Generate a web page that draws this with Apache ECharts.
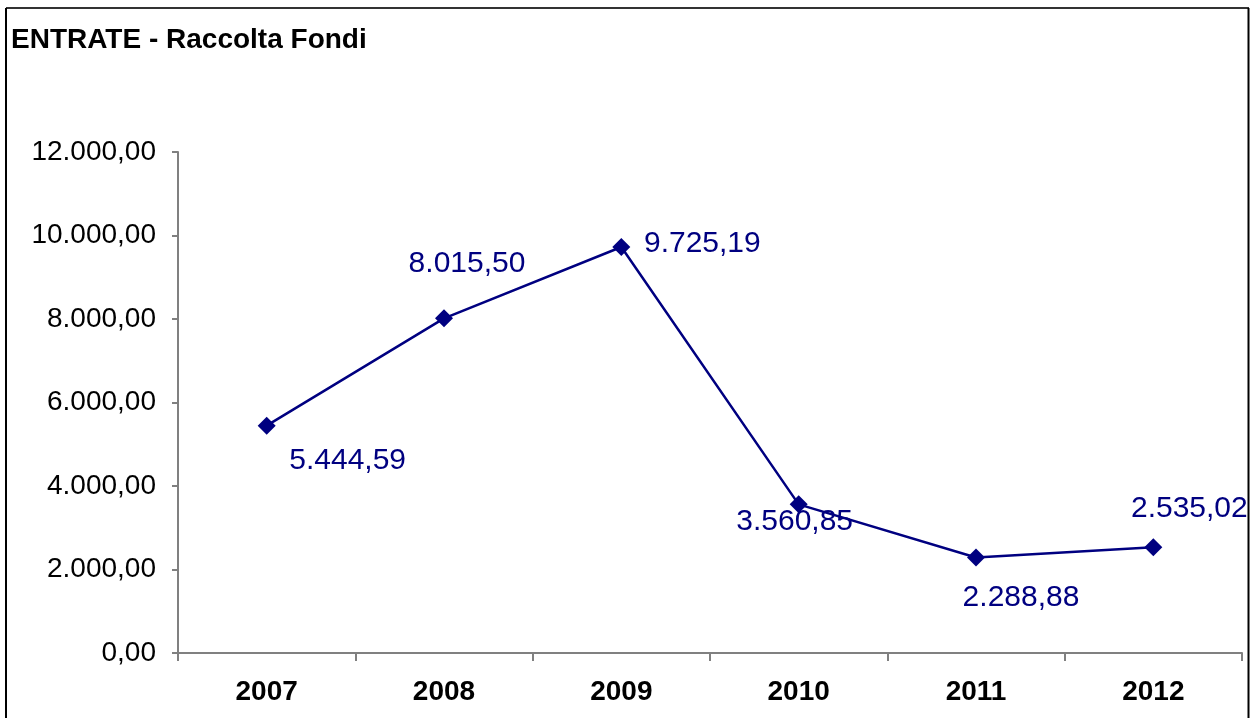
<!DOCTYPE html>
<html>
<head>
<meta charset="utf-8">
<script src="https://cdn.jsdelivr.net/npm/echarts@6/dist/echarts.min.js"></script>
<style>html,body{margin:0;padding:0;background:#fff}#c{width:1250px;height:718px}</style>
</head>
<body>
<div id="c"></div>
<script>
const categories = ['2007', '2008', '2009', '2010', '2011', '2012'];
const values = [5444.59, 8015.50, 9725.19, 3560.85, 2288.88, 2535.02];
const yTicks = [0, 2000, 4000, 6000, 8000, 10000, 12000];

function fmtIt(v) {
  const s = Number(v).toFixed(2);
  let [i, d] = s.split('.');
  i = i.replace(/\B(?=(\d{3})+(?!\d))/g, '.');
  return i + ',' + d;
}

const labelOffsets = [[81, 35], [23, -55], [81, -3], [-4, 17], [45, 40], [36, -38]];

const chart = echarts.init(document.getElementById('c'));
const navy = '#000080';
chart.setOption({
  backgroundColor: '#fff',
  animation: false,
  title: {
    text: 'ENTRATE - Raccolta Fondi',
    left: 6, top: 21,
    textStyle: { fontFamily: 'Liberation Sans, Arial', fontWeight: 'bold', fontSize: 28, color: '#000' }
  },
  grid: { left: 178, right: 8, top: 152, bottom: 65 },
  xAxis: {
    type: 'category',
    data: categories,
    boundaryGap: true,
    axisLine: { lineStyle: { color: '#808080', width: 2 } },
    axisTick: { show: true, length: 8, lineStyle: { color: '#808080', width: 2 } },
    axisLabel: { margin: 25, fontFamily: 'Liberation Sans, Arial', fontWeight: 'bold', fontSize: 28, color: '#000' }
  },
  yAxis: {
    type: 'value',
    min: yTicks[0], max: yTicks[yTicks.length - 1], interval: 2000,
    splitLine: { show: false },
    axisLine: { show: true, lineStyle: { color: '#808080', width: 2 } },
    axisTick: { show: true, length: 6, lineStyle: { color: '#808080', width: 2 } },
    axisLabel: { margin: 22, fontFamily: 'Liberation Sans, Arial', fontSize: 28, color: '#000', formatter: fmtIt }
  },
  series: [{
    type: 'line',
    data: values.map((v, i) => ({
      value: v,
      label: { offset: labelOffsets[i] }
    })),
    symbol: 'diamond',
    symbolSize: 18,
    lineStyle: { color: navy, width: 2.5 },
    itemStyle: { color: navy },
    label: {
      show: true, position: 'inside',
      fontFamily: 'Liberation Sans, Arial', fontSize: 30, color: navy,
      formatter: p => fmtIt(p.value)
    }
  }],
  graphic: [
    { type: 'line', shape: { x1: 6, y1: 8, x2: 1249, y2: 8 }, style: { stroke: '#333', lineWidth: 2 } },
    { type: 'line', shape: { x1: 6, y1: 8, x2: 6, y2: 718 }, style: { stroke: '#000', lineWidth: 2 } },
    { type: 'line', shape: { x1: 1248.5, y1: 8, x2: 1248.5, y2: 718 }, style: { stroke: '#000', lineWidth: 2 } }
  ]
});
</script>
</body>
</html>
